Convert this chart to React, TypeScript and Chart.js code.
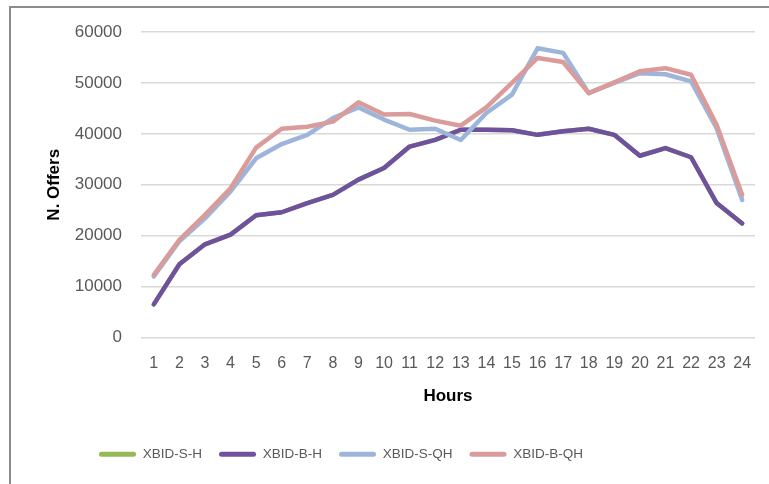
import React, { useEffect, useRef } from "react";
import { Chart, registerables } from "chart.js";

Chart.register(...registerables);

const hours = ["1","2","3","4","5","6","7","8","9","10","11","12","13","14","15","16","17","18","19","20","21","22","23","24"];
const xbidSH = [6500,14400,18300,20200,24000,24600,26400,28000,31000,33300,37500,38800,40800,40800,40700,39800,40500,41000,39800,35700,37200,35400,26400,22400];
const xbidBH = [6500,14400,18300,20200,24000,24600,26400,28000,31000,33300,37500,38800,40800,40800,40700,39800,40500,41000,39800,35700,37200,35400,26400,22400];
const xbidSQH = [12000,18900,23400,28700,35200,38000,39800,43100,45200,42800,40800,41000,38800,44100,47700,56800,55900,48000,50000,51900,51700,50300,41100,27000];
const xbidBQH = [12300,19200,24100,29300,37300,41000,41400,42400,46200,43800,43900,42600,41600,45200,50000,54900,54100,48000,50100,52300,52900,51600,41800,28000];
const yMin = 0;
const yMax = 60000;
const yStep = 10000;

const seriesNames = ["XBID-S-H", "XBID-B-H", "XBID-S-QH", "XBID-B-QH"];
const seriesColors = ["#95B956", "#6F519E", "#9DB5DB", "#DA9C9A"];

const FONT = "'Liberation Sans', Arial, sans-serif";

export default function App() {
  const canvasRef = useRef<HTMLCanvasElement | null>(null);

  useEffect(() => {
    const canvas = canvasRef.current;
    if (!canvas) return;
    const values = [xbidSH, xbidBH, xbidSQH, xbidBQH];
    const legendShift = {
      id: "legendShift",
      afterLayout(chart: any) {
        if (chart.legend) {
          chart.legend.left = 99 - 17;
        }
      },
    };
    const chart = new Chart(canvas, {
      type: "line",
      data: {
        labels: hours,
        datasets: values.map((d, i) => ({
          label: seriesNames[i],
          data: d,
          borderColor: seriesColors[i],
          backgroundColor: seriesColors[i],
          borderWidth: 4.5,
          pointRadius: 0,
          tension: 0,
          borderCapStyle: "round" as const,
          borderJoinStyle: "round" as const,
          fill: false,
          order: 4 - i,
        })),
      },
      options: {
        animation: false,
        responsive: false,
        maintainAspectRatio: false,
        devicePixelRatio: 1,
        layout: { padding: { left: 10, right: 14, top: 32, bottom: 13 } },
        plugins: {
          tooltip: { enabled: false },
          legend: {
            position: "bottom",
            align: "start",
            labels: {
              boxWidth: 37,
              boxHeight: 5,
              padding: 17,
              color: "#595959",
              font: { family: FONT, size: 13.5 },
              useBorderRadius: true,
              borderRadius: 2.5,
              sort: (a: any, b: any) => a.datasetIndex - b.datasetIndex,
              generateLabels: (c: any) =>
                Chart.defaults.plugins.legend.labels
                  .generateLabels(c)
                  .map((l: any) => ({ ...l, lineWidth: 0 })),
            },
          },
        },
        scales: {
          x: {
            type: "category",
            offset: true,
            grid: { display: false, drawTicks: false },
            border: { display: false },
            ticks: {
              color: "#595959",
              font: { family: FONT, size: 16 },
              padding: 16,
              autoSkip: false,
              maxRotation: 0,
              minRotation: 0,
            },
            title: {
              display: true,
              text: "Hours",
              color: "#000000",
              font: { family: FONT, size: 17, weight: "bold" },
              padding: { top: 0, bottom: 24 },
            },
            afterFit: (scale: any) => {
              scale.height = 93;
            },
          },
          y: {
            min: yMin,
            max: yMax,
            grid: { color: "#D9D9D9", lineWidth: 1.5, drawTicks: false },
            border: { display: false },
            ticks: {
              stepSize: yStep,
              color: "#595959",
              font: { family: FONT, size: 17 },
              padding: 19,
              callback: (v: any) => String(v),
            },
            title: {
              display: true,
              text: "N. Offers",
              color: "#000000",
              font: { family: FONT, size: 17, weight: "bold" },
              padding: { top: 34, bottom: 0 },
            },
            afterFit: (scale: any) => {
              scale.width = 131;
            },
          },
        },
      },
      plugins: [legendShift],
    });
    return () => chart.destroy();
  }, []);

  return (
    <div style={{ position: "fixed", left: 0, top: 0, width: 769, height: 484, background: "#fff" }}>
      <canvas ref={canvasRef} width={769} height={484} style={{ position: "absolute", left: 0, top: 0, width: 769, height: 484 }} />
      <div
        style={{
          position: "absolute",
          left: 9,
          top: 6,
          width: 770,
          height: 476,
          borderLeft: "2px solid #8C8C8C",
          borderTop: "2px solid #8C8C8C",
          borderBottom: "1px solid #D0D0D0",
          pointerEvents: "none",
        }}
      />
    </div>
  );
}
